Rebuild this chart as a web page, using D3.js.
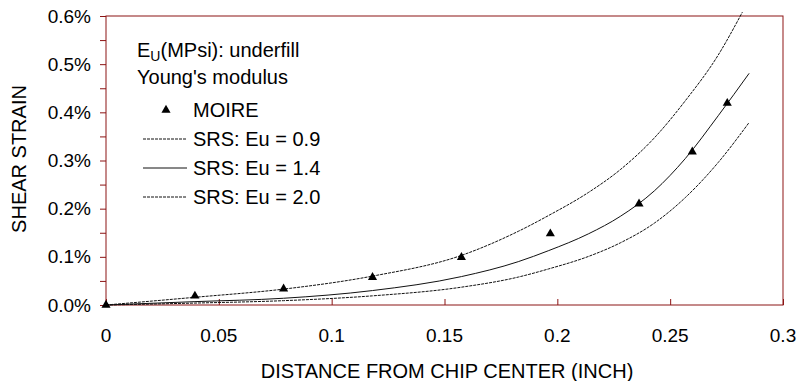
<!DOCTYPE html>
<html>
<head>
<meta charset="utf-8">
<script src="https://cdn.jsdelivr.net/npm/d3@7"></script>
<style>
  body { margin: 0; background: #fff; }
  text { font-family: "Liberation Sans", Arial, sans-serif; fill: #000; }
</style>
</head>
<body>
<div id="canvas"></div>
<script>
// measured data (strain in %)
const moireX = [0, 0.0394, 0.0787, 0.1181, 0.1575, 0.1969, 0.2362, 0.2598, 0.2753];
const moireY = [0, 0.0187, 0.0335, 0.0575, 0.099, 0.148, 0.21, 0.318, 0.419];

const srsX = [0, 0.0394, 0.0787, 0.1181, 0.1575, 0.1827, 0.1962, 0.2139, 0.2279, 0.2430, 0.2567, 0.2713, 0.2850];
const srsX09 = [0, 0.0394, 0.0787, 0.1181, 0.1575, 0.1827, 0.1962, 0.2139, 0.2279, 0.2430, 0.2567, 0.2713, 0.2820];
const eu09 = [0, 0.016, 0.033, 0.060, 0.103, 0.153, 0.186, 0.234, 0.281, 0.347, 0.424, 0.519, 0.608];
const eu14 = [0, 0.007, 0.014, 0.030, 0.059, 0.090, 0.113, 0.148, 0.184, 0.237, 0.304, 0.393, 0.481];
const eu20 = [0, 0.004, 0.009, 0.019, 0.037, 0.058, 0.075, 0.101, 0.129, 0.170, 0.223, 0.296, 0.379];

const xTicks = [0, 0.05, 0.1, 0.15, 0.2, 0.25, 0.3];
const yTicks = [0, 0.1, 0.2, 0.3, 0.4, 0.5, 0.6];
const legendLabels = ["MOIRE", "SRS: Eu = 0.9", "SRS: Eu = 1.4", "SRS: Eu = 2.0"];

const width = 799, height = 381;
const margin = { top: 16, left: 106, bottom: 76, right: 16 };
const iwidth = width - margin.left - margin.right;
const iheight = height - margin.top - margin.bottom;
const axisColor = "#8b1414";

const svg = d3.select("#canvas").append("svg")
  .attr("width", width).attr("height", height);
const g = svg.append("g").attr("transform", `translate(${margin.left},${margin.top})`);

const x = d3.scaleLinear().domain([0, 0.3]).range([0, iwidth]);
const y = d3.scaleLinear().domain([0, 0.6]).range([iheight, 0]);

// frame
g.append("rect").attr("x", 0).attr("y", 0).attr("width", iwidth).attr("height", iheight)
  .attr("fill", "none").attr("stroke", axisColor).attr("stroke-width", 1);
g.append("line").attr("x1", iwidth + 0.5).attr("x2", iwidth + 0.5).attr("y1", 0).attr("y2", iheight)
  .attr("stroke", "#c98a8a").attr("stroke-width", 1);

// y axis: major labels, ticks every 0.05%
const yAxis = g.append("g")
  .call(d3.axisLeft(y).tickValues(d3.range(0, 0.601, 0.05)).tickSize(6).tickFormat(""));
yAxis.select(".domain").remove();
yAxis.selectAll("line").attr("stroke", axisColor);
g.selectAll(".ylab").data(yTicks).enter().append("text")
  .attr("x", -15).attr("y", d => y(d)).attr("dy", "0.35em")
  .attr("text-anchor", "end").style("font-size", "19px")
  .text(d => d3.format(".1f")(d) + "%");

// x axis: inward ticks
const xAxis = g.append("g").attr("transform", `translate(0,${iheight})`)
  .call(d3.axisTop(x).tickValues(xTicks).tickSize(6).tickFormat(""));
xAxis.select(".domain").remove();
xAxis.selectAll("line").attr("stroke", axisColor);
g.selectAll(".xlab").data(xTicks).enter().append("text")
  .attr("x", d => x(d)).attr("y", iheight + 30).attr("dy", "0.35em")
  .attr("text-anchor", "middle").style("font-size", "19px")
  .text(d => d === 0 ? "0" : d3.format("")(d));

// axis titles
svg.append("text").attr("x", 447).attr("y", 371).attr("dy", "0.35em")
  .attr("text-anchor", "middle").style("font-size", "20px")
  .text("DISTANCE FROM CHIP CENTER (INCH)");
svg.append("text").attr("transform", "translate(19,159) rotate(-90)").attr("dy", "0.35em")
  .attr("text-anchor", "middle").style("font-size", "20px")
  .text("SHEAR STRAIN");

// curves
const line = d3.line().curve(d3.curveMonotoneX).x(d => x(d[0])).y(d => y(d[1]));
const series = [
  { xs: srsX09, ys: eu09, dash: "3,1" },
  { xs: srsX, ys: eu14, dash: null },
  { xs: srsX, ys: eu20, dash: "3,1" }
];
series.forEach(s => {
  g.append("path").datum(s.xs.map((v, i) => [v, s.ys[i]]))
    .attr("d", line).attr("fill", "none").attr("stroke", "#111")
    .attr("stroke-width", 1).attr("stroke-dasharray", s.dash);
});

// moire points
const tri = d3.symbol().type(d3.symbolTriangle).size(36);
g.selectAll(".pt").data(moireX.map((v, i) => [v, moireY[i]])).enter().append("path")
  .attr("d", tri).attr("fill", "#000")
  .attr("transform", d => `translate(${x(d[0])},${y(d[1])})`);

// legend
const lg = svg.append("g");
const t1 = lg.append("text").attr("x", 137).attr("y", 50).attr("dy", "0.35em").style("font-size", "20px");
t1.append("tspan").text("E");
t1.append("tspan").attr("dy", "4").style("font-size", "14px").text("U");
t1.append("tspan").attr("dy", "-4").text("(MPsi): underfill");
lg.append("text").attr("x", 137).attr("y", 77).attr("dy", "0.35em").style("font-size", "20px")
  .text("Young's modulus");
const rows = [110, 139, 168, 197];
rows.forEach((ry, i) => {
  lg.append("text").attr("x", 193).attr("y", ry).attr("dy", "0.35em").style("font-size", "20px")
    .text(legendLabels[i]);
});
lg.append("path").attr("d", tri).attr("fill", "#000").attr("transform", `translate(166,${rows[0]})`);
[["3,1", rows[1]], [null, rows[2]], ["3,1", rows[3]]].forEach(([dash, ry]) => {
  lg.append("line").attr("x1", 143).attr("x2", 187).attr("y1", ry).attr("y2", ry)
    .attr("stroke", "#111").attr("stroke-width", 1).attr("stroke-dasharray", dash);
});
</script>
</body>
</html>
